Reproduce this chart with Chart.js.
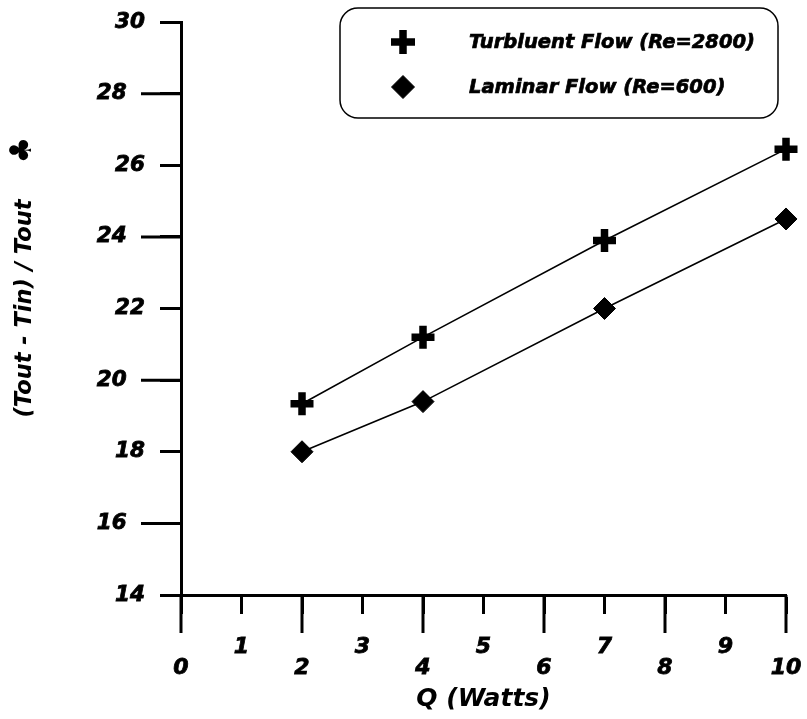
<!DOCTYPE html>
<html>
<head>
<meta charset="utf-8">
<script src="https://cdn.jsdelivr.net/npm/chart.js@4/dist/chart.umd.min.js"></script>
<style>
  body { margin: 0; background: #fff; }
  #wrap { width: 807px; height: 719px; }
</style>
</head>
<body>
<div id="wrap"><canvas id="heatChart" width="807" height="719"></canvas></div>
<script>
// Data
const powerQ = [2, 4, 7, 10];
const turbulentRise = [19.34, 21.2, 23.9, 26.45];
const laminarRise = [18.0, 19.4, 22.0, 24.5];
const seriesNames = ['Turbluent Flow (Re=2800)', 'Laminar Flow (Re=600)'];
const xTitle = 'Q (Watts)';
const yTitle = '(Tout - Tin) / Tout';
const yUnit = '\u2663';

const FONT = '"DejaVu Sans", sans-serif';

function toPoints(ys) {
  return powerQ.map((q, i) => ({ x: q, y: ys[i] }));
}

// Long ticks at every other step, drawn from the scales
const longTicks = {
  id: 'longTicks',
  afterDraw(chart) {
    const ctx = chart.ctx;
    const xs = chart.scales.x, ys = chart.scales.y;
    ctx.save();
    ctx.strokeStyle = '#000';
    ctx.lineWidth = 3;
    xs.ticks.forEach(t => {
      if (t.value % 2 !== 0) return;
      const px = xs.getPixelForValue(t.value);
      ctx.beginPath();
      ctx.moveTo(px, xs.top);
      ctx.lineTo(px, xs.top + 38);
      ctx.stroke();
    });
    ys.ticks.forEach(t => {
      if (t.value % 4 !== 0) return;
      const py = ys.getPixelForValue(t.value);
      ctx.beginPath();
      ctx.moveTo(ys.right, py);
      ctx.lineTo(ys.right - 40, py);
      ctx.stroke();
    });
    // unit glyph above the y title
    ctx.translate(23, 150);
    ctx.rotate(-Math.PI / 2);
    ctx.fillStyle = '#000';
    ctx.font = 'bold 30px ' + FONT;
    ctx.textAlign = 'center';
    ctx.textBaseline = 'middle';
    ctx.fillText(yUnit, 0, 0);
    ctx.restore();
  }
};

// Rounded legend box over the plot
const boxLegend = {
  id: 'boxLegend',
  afterDraw(chart) {
    const ctx = chart.ctx;
    ctx.save();
    ctx.strokeStyle = '#000';
    ctx.lineWidth = 1.5;
    ctx.beginPath();
    ctx.roundRect(340, 8, 438, 110, 18);
    ctx.fillStyle = '#fff';
    ctx.fill();
    ctx.stroke();
    chart.data.datasets.forEach((ds, i) => {
      const y = 42 + i * 45;
      ctx.fillStyle = '#000';
      ctx.strokeStyle = '#000';
      ctx.lineWidth = ds.pointBorderWidth;
      Chart.helpers.drawPoint(ctx, {
        pointStyle: ds.pointStyle,
        radius: ds.pointRadius + 0.5,
        borderWidth: ds.pointBorderWidth,
        rotation: 0
      }, 403, y);
      ctx.font = 'italic bold 19.5px ' + FONT;
      ctx.textAlign = 'left';
      ctx.textBaseline = 'middle';
      ctx.lineWidth = 0.7;
      ctx.fillText(ds.label, 469, y + 1);
      ctx.strokeText(ds.label, 469, y + 1);
    });
    ctx.restore();
  }
};

new Chart(document.getElementById('heatChart'), {
  type: 'scatter',
  data: {
    datasets: [
      {
        label: seriesNames[0],
        data: toPoints(turbulentRise),
        showLine: true,
        borderColor: '#000',
        borderWidth: 1.6,
        pointStyle: 'cross',
        pointRadius: 11.5,
        pointHoverRadius: 11.5,
        pointBorderWidth: 7.5,
        pointBorderColor: '#000',
        pointBackgroundColor: '#000',
        clip: false
      },
      {
        label: seriesNames[1],
        data: toPoints(laminarRise),
        showLine: true,
        borderColor: '#000',
        borderWidth: 1.6,
        pointStyle: 'rectRot',
        pointRadius: 11,
        pointHoverRadius: 11,
        pointBorderWidth: 1,
        pointBorderColor: '#000',
        pointBackgroundColor: '#000',
        clip: false
      }
    ]
  },
  options: {
    responsive: false,
    animation: false,
    layout: { padding: { top: 22, right: 21, left: 0, bottom: 0 } },
    plugins: {
      legend: { display: false },
      tooltip: { enabled: false }
    },
    scales: {
      x: {
        type: 'linear',
        min: 0,
        max: 10,
        afterFit: s => { s.height = 124; s.paddingLeft = 0; s.paddingRight = 0; },
        ticks: {
          stepSize: 1,
          color: '#000',
          padding: 23,
          maxRotation: 0,
          autoSkip: false,
          textStrokeColor: '#000',
          textStrokeWidth: 0.8,
          font: { family: FONT, size: 22, weight: 'bold', style: 'italic', lineHeight: 0.95 },
          callback: v => (v % 2 === 1 ? String(v) : ['', String(v)])
        },
        grid: { drawOnChartArea: false, tickLength: 19, tickWidth: 3, tickColor: '#000' },
        border: { color: '#000', width: 3 },
        title: {
          display: true,
          text: xTitle,
          color: '#000',
          padding: { top: 0, bottom: 5 },
          font: { family: FONT, size: 25, weight: 'bold', style: 'italic' }
        }
      },
      y: {
        type: 'linear',
        min: 14,
        max: 30,
        afterFit: s => { s.width = 181; s.paddingTop = 0; s.paddingBottom = 0; },
        ticks: {
          stepSize: 2,
          color: '#000',
          padding: 15,
          autoSkip: false,
          textStrokeColor: '#000',
          textStrokeWidth: 0.8,
          font: { family: FONT, size: 21.5, weight: 'bold', style: 'italic' },
          callback: v => (v % 4 === 0 ? v + '\u2002 ' : String(v))
        },
        grid: { drawOnChartArea: false, tickLength: 21, tickWidth: 3, tickColor: '#000' },
        border: { color: '#000', width: 3 },
        title: {
          display: true,
          text: yTitle,
          color: '#000',
          padding: { top: 12, bottom: 0 },
          font: { family: FONT, size: 22.5, weight: 'bold', style: 'italic' }
        }
      }
    }
  },
  plugins: [longTicks, boxLegend]
});
</script>
</body>
</html>
